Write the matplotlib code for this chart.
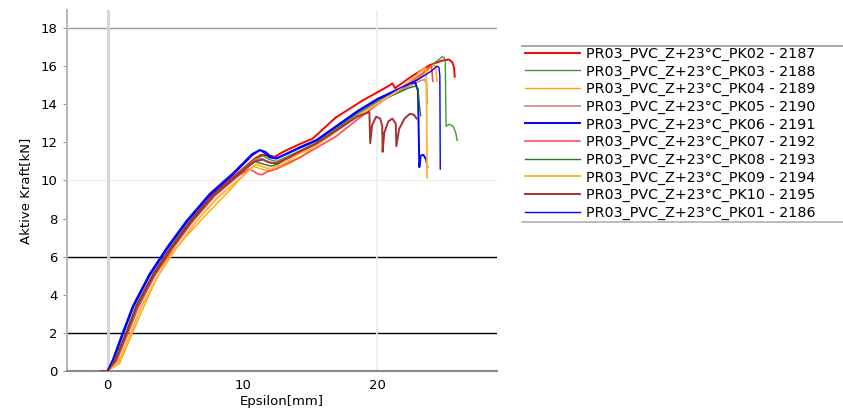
"""plot.py - Kraft-Weg-Kurven PR03 PVC Z +23°C (PK01..PK10)."""
import matplotlib
matplotlib.use("Agg")
import matplotlib.pyplot as plt
from matplotlib.lines import Line2D

# --- Messkurven ---
pk02_x = [0, 0.55, 1.4, 2.15, 3.4, 4.7, 6.15, 7.85, 9.6, 10.9, 11.4, 11.9, 12.4, 13.0, 14.2, 15.2, 16.9,
          18.9, 20.8, 21.1, 21.3, 22.5, 23.85, 24.8, 25.3, 25.55, 25.68, 25.72]
pk02_y = [0, 0.55, 2.0, 3.4, 5.1, 6.5, 7.9, 9.3, 10.35, 11.15, 11.35, 11.3, 11.25, 11.5, 11.9, 12.2, 13.3,
          14.2, 14.95, 15.1, 14.85, 15.45, 16.05, 16.3, 16.35, 16.2, 15.9, 15.45]

pk03_x = [0, 0.55, 1.4, 2.15, 3.4, 4.7, 6.15, 7.85, 9.6, 10.9, 11.5, 12.0, 12.5, 13.3, 14.2, 15.5, 17.0,
          18.5, 20.0, 21.5, 23.0, 24.1, 24.8, 24.95, 25.02, 25.08, 25.3, 25.6, 25.8, 25.9]
pk03_y = [0, 0.55, 2.0, 3.4, 5.05, 6.45, 7.85, 9.25, 10.3, 11.1, 11.3, 11.1, 11.0, 11.25, 11.55, 12.0, 12.75,
          13.5, 14.15, 14.7, 15.3, 16.1, 16.5, 16.45, 16.2, 12.85, 12.95, 12.85, 12.5, 12.1]

pk04_x = [0, 0.9, 1.85, 2.7, 3.6, 4.5, 6.0, 7.5, 9.0, 10.3, 10.8, 11.4, 12.0, 12.8, 13.5, 14.5, 16.4,
          17.9, 19.4, 21.0, 22.5, 23.6, 24.2, 24.33, 24.4]
pk04_y = [0, 0.4, 2.0, 3.4, 4.8, 6.0, 7.2, 8.35, 9.45, 10.45, 10.75, 10.6, 10.5, 10.7, 10.9, 11.3, 12.45,
          13.1, 13.8, 14.5, 15.1, 15.7, 16.1, 15.9, 15.2]

pk05_x = [0, 0.6, 1.45, 2.2, 3.45, 4.75, 6.2, 7.9, 9.65, 10.9, 11.4, 11.9, 12.4, 13.2, 14.2, 15.5, 17.0,
          18.5, 20.0, 21.5, 22.5, 23.2, 23.5, 23.65, 23.7]
pk05_y = [0, 0.55, 2.0, 3.35, 5.0, 6.4, 7.8, 9.2, 10.25, 11.05, 11.15, 10.95, 10.9, 11.15, 11.5, 11.95, 12.7,
          13.45, 14.1, 14.65, 15.0, 15.25, 15.3, 15.05, 14.05]

pk06_x = [0, 0.4, 1.15, 1.9, 3.15, 4.45, 5.9, 7.6, 9.35, 10.75, 11.3, 11.7, 12.1, 12.5, 13.3, 14.2, 15.5,
          17.0, 18.5, 20.0, 21.5, 22.4, 22.8, 23.0, 23.1, 23.2, 23.4, 23.6, 23.7]
pk06_y = [0, 0.55, 1.95, 3.35, 5.05, 6.45, 7.85, 9.25, 10.35, 11.35, 11.6, 11.5, 11.25, 11.15, 11.4, 11.7, 12.1,
          12.85, 13.6, 14.25, 14.75, 15.1, 15.15, 14.7, 10.7, 11.3, 11.35, 11.1, 10.7]

pk07_x = [0, 0.65, 1.5, 2.25, 3.5, 4.8, 6.25, 7.95, 9.7, 10.5, 10.8, 11.1, 11.4, 11.8, 12.5, 13.3, 14.2,
          15.2, 16.9, 18.5, 20.0, 21.5, 22.5, 23.3, 23.8, 24.0, 24.1]
pk07_y = [0, 0.5, 1.95, 3.3, 5.0, 6.4, 7.8, 9.2, 10.25, 10.6, 10.5, 10.35, 10.3, 10.45, 10.6, 10.9, 11.2,
          11.6, 12.3, 13.2, 14.0, 14.7, 15.2, 15.6, 15.95, 16.0, 15.2]

pk08_x = [0, 0.5, 1.35, 2.1, 3.35, 4.65, 6.1, 7.8, 9.55, 10.9, 11.6, 12.1, 12.6, 13.4, 14.2, 15.5, 17.0,
          18.5, 20.0, 21.5, 22.3, 22.8, 23.0, 23.1, 23.2]
pk08_y = [0, 0.55, 2.0, 3.4, 5.05, 6.45, 7.85, 9.2, 10.25, 11.0, 10.85, 10.75, 10.85, 11.2, 11.5, 11.95, 12.7,
          13.45, 14.1, 14.6, 14.85, 14.95, 14.85, 14.0, 13.4]

pk09_x = [0, 0.8, 1.7, 2.45, 3.7, 5.0, 6.45, 8.15, 9.9, 11.0, 11.6, 12.1, 12.6, 13.4, 14.2, 15.5, 17.0,
          18.5, 20.0, 21.5, 22.7, 23.3, 23.55, 23.62, 23.68]
pk09_y = [0, 0.45, 1.95, 3.3, 4.95, 6.35, 7.75, 9.1, 10.15, 10.85, 10.7, 10.6, 10.75, 11.05, 11.4, 11.85, 12.6,
          13.4, 14.05, 14.7, 15.4, 15.8, 15.9, 15.6, 10.15]

pk10_x = [-0.5, 0, 0.55, 1.4, 2.15, 3.4, 4.7, 6.15, 7.85, 9.6, 10.9, 11.5, 12.0, 12.5, 13.3, 14.2, 15.5,
          17.0, 18.5, 19.4, 19.46, 19.6, 19.9, 20.2, 20.35, 20.38, 20.5, 20.8, 21.1, 21.35, 21.4,
          21.6, 22.0, 22.4, 22.7, 22.9]
pk10_y = [0, 0, 0.5, 1.95, 3.35, 5.0, 6.4, 7.8, 9.2, 10.25, 11.0, 11.1, 10.95, 10.9, 11.15, 11.5, 11.95,
          12.65, 13.35, 13.6, 11.95, 12.9, 13.35, 13.25, 12.85, 11.5, 12.5, 13.1, 13.25, 13.0, 11.8,
          12.7, 13.25, 13.5, 13.45, 13.25]

pk01_x = [0, 0.37, 1.1, 1.85, 3.1, 4.4, 5.85, 7.55, 9.3, 10.7, 11.26, 11.6, 12.0, 12.4, 13.2, 14.2, 15.5,
          17.0, 18.5, 20.0, 21.5, 23.0, 24.0, 24.4, 24.55, 24.62, 24.65]
pk01_y = [0, 0.58, 2.0, 3.4, 5.1, 6.5, 7.9, 9.3, 10.4, 11.4, 11.6, 11.45, 11.2, 11.15, 11.4, 11.75, 12.15,
          12.9, 13.65, 14.3, 14.8, 15.3, 15.75, 16.0, 15.95, 15.5, 10.6]

labels = ["PR03_PVC_Z+23°C_PK02 - 2187", "PR03_PVC_Z+23°C_PK03 - 2188", "PR03_PVC_Z+23°C_PK04 - 2189",
          "PR03_PVC_Z+23°C_PK05 - 2190", "PR03_PVC_Z+23°C_PK06 - 2191", "PR03_PVC_Z+23°C_PK07 - 2192",
          "PR03_PVC_Z+23°C_PK08 - 2193", "PR03_PVC_Z+23°C_PK09 - 2194", "PR03_PVC_Z+23°C_PK10 - 2195",
          "PR03_PVC_Z+23°C_PK01 - 2186"]

series = [(pk02_x, pk02_y), (pk03_x, pk03_y), (pk04_x, pk04_y), (pk05_x, pk05_y), (pk06_x, pk06_y),
          (pk07_x, pk07_y), (pk08_x, pk08_y), (pk09_x, pk09_y), (pk10_x, pk10_y), (pk01_x, pk01_y)]
colors = ["#ff0000", "#3a9a3a", "#ffa500", "#d08484", "#0000ff",
          "#ff4d4d", "#1f7a1f", "#ffb43c", "#a83232", "#0000ff"]
widths = [1.4, 1.0, 1.0, 1.2, 1.4, 1.2, 1.0, 1.4, 1.4, 1.0]

fig = plt.figure(figsize=(8.43, 4.11), dpi=100)
ax = fig.add_axes([0.0795, 0.0973, 0.51, 0.8784])

# Gitterlinien wie im Original (unregelmaessig)
ax.axhline(18, color="#9a9a9a", lw=1.0, zorder=1)
ax.axhline(6, color="black", lw=1.0, zorder=1)
ax.axhline(2, color="black", lw=1.0, zorder=1)
ax.axhline(10, color="#f0f0f0", lw=1.0, zorder=1)
ax.axvline(0, color="#d4d4d4", lw=2.0, zorder=1)
ax.axvline(20, color="#eeeeee", lw=1.2, zorder=1)

handles = []
for (x, y), c, w, lab in zip(series, colors, widths, labels):
    ln, = ax.plot(x, y, color=c, lw=w, label=lab, zorder=3)
    handles.append(ln)

ax.set_xlim(-3.0, 28.85)
ax.set_ylim(0, 18.95)
ax.set_xticks([0, 10, 20])
ax.set_yticks(range(0, 19, 2))
ax.tick_params(axis="x", length=0, labelsize=9.5, pad=6)
ax.tick_params(axis="y", length=3, color="#7a9cc8", labelsize=9.5, pad=4)
ax.set_xlabel("Epsilon[mm]", fontsize=9.5, labelpad=2)
ax.set_ylabel("Aktive Kraft[kN]", fontsize=9.5, labelpad=6)
for s in ("top", "right"):
    ax.spines[s].set_visible(False)
ax.spines["left"].set_color("#b8b8b8")
ax.spines["left"].set_linewidth(1.5)
ax.spines["bottom"].set_color("#8a8a8a")
ax.spines["bottom"].set_linewidth(1.5)

leg = fig.legend(handles=handles, loc="upper left", bbox_to_anchor=(0.6228, 0.886),
                 frameon=False, fontsize=10.3, handlelength=3.85, handletextpad=0.42,
                 labelspacing=0.245, borderaxespad=0, borderpad=0)
# Rahmen nur oben/unten
fig.add_artist(Line2D([522 / 843, 1.0], [1 - 46 / 411] * 2, color="#9a9a9a", lw=1.2))
fig.add_artist(Line2D([522 / 843, 1.0], [1 - 222 / 411] * 2, color="#b0b0b0", lw=1.2))

fig.savefig("out.png", dpi=100)
